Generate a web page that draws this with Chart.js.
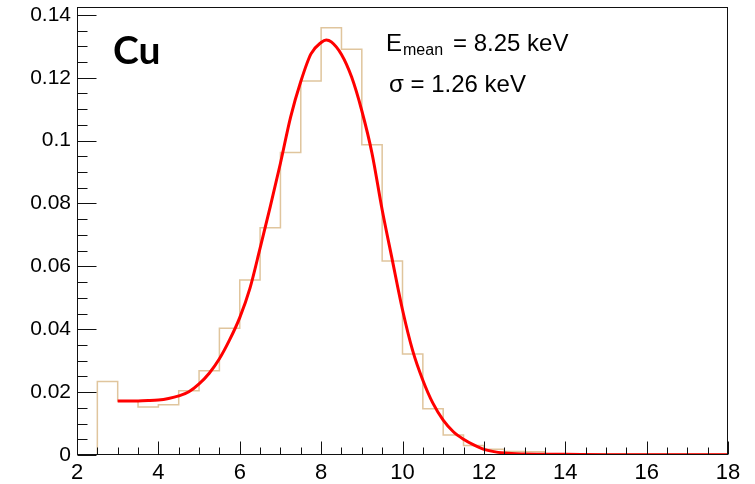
<!DOCTYPE html>
<html>
<head>
<meta charset="utf-8">
<title>Cu spectrum</title>
<script src="https://cdn.jsdelivr.net/npm/chart.js@4.4.0/dist/chart.umd.min.js"></script>
<style>
  html, body { margin: 0; padding: 0; background: #fff; }
  #wrap { width: 755px; height: 484px; }
</style>
</head>
<body>
<div id="wrap"><canvas id="spectrum" width="755" height="484"></canvas></div>
<script>
// Histogram bin edges (keV) and normalised content of each 0.5 keV bin
const binEdges = [2, 2.5, 3, 3.5, 4, 4.5, 5, 5.5, 6, 6.5, 7, 7.5, 8, 8.5, 9, 9.5, 10,
    10.5, 11, 11.5, 12, 12.5, 13, 13.5, 14, 14.5, 15, 15.5, 16, 16.5, 17, 17.5, 18];
const binCounts = [0, 0.0234, 0.0172, 0.0153, 0.0160, 0.0204, 0.0268, 0.0403, 0.0557,
    0.0723, 0.0962, 0.1190, 0.1359, 0.1291, 0.0987, 0.0617, 0.0321, 0.0147, 0.0064,
    0.0030, 0.0018, 0.0011, 0.0010, 0.0004, 0.0003, 0.0003, 0.0003, 0.0003, 0.0003,
    0.0003, 0.0003, 0.0003];

// Fit curve, sampled along the energy axis
const fitEnergy = [3, 3.25, 3.5, 3.75, 4, 4.25, 4.5, 4.75, 5, 5.25, 5.5, 5.75, 6, 6.25,
    6.5, 6.75, 7, 7.25, 7.5, 7.75, 8, 8.125, 8.25, 8.5, 8.75, 9, 9.25, 9.5, 9.75, 10,
    10.25, 10.5, 10.75, 11, 11.25, 11.5, 11.75, 12, 12.5, 13, 14, 15, 16, 17, 18];
const fitValue = [0.0172, 0.0172, 0.0172, 0.0173, 0.0175, 0.0180, 0.0188, 0.0201, 0.0226,
    0.0260, 0.0306, 0.0366, 0.0437, 0.0530, 0.0658, 0.0790, 0.0928, 0.1075, 0.1188,
    0.1276, 0.1312, 0.1320, 0.1314, 0.1274, 0.1202, 0.1095, 0.0960, 0.0780, 0.0620,
    0.0462, 0.0332, 0.0238, 0.0164, 0.0111, 0.0074, 0.0050, 0.0032, 0.0018, 0.0006,
    0.0003, 0.0002, 0.0001, 0.0001, 0.0001, 0.0001];

// Axis ticks
const xTickValues = [2, 4, 6, 8, 10, 12, 14, 16, 18];
const yTickValues = [0, 0.02, 0.04, 0.06, 0.08, 0.1, 0.12, 0.14];
const yTickLabels = ['0', '0.02', '0.04', '0.06', '0.08', '0.1', '0.12', '0.14'];
const xMinorStep = 0.5;
const yMinorStep = 0.005;

const tickFont = "'Liberation Sans', Arial, Helvetica, sans-serif";

// Step outline: one point per lower edge, last edge repeats the final bin
const histPoints = binCounts.map((c, i) => ({ x: binEdges[i], y: c }));
histPoints.push({ x: binEdges[binEdges.length - 1], y: binCounts[binCounts.length - 1] });

const fitPoints = fitEnergy.map((e, i) => ({ x: e, y: fitValue[i] }));

// Frame box with inward ticks on the bottom and left axes
const frameTicks = {
    id: 'frameTicks',
    afterDatasetsDraw(chart) {
        const { ctx, chartArea: a, scales: { x, y } } = chart;
        const L = Math.round(a.left) + 0.5;
        const R = Math.round(a.right) - 0.5;
        const T = Math.round(a.top) + 0.5;
        const B = Math.round(a.bottom) - 0.5;
        ctx.save();
        ctx.strokeStyle = '#111';
        ctx.lineWidth = 1;
        ctx.strokeRect(L, T, R - L, B - T);

        ctx.beginPath();
        const nx = Math.round((x.max - x.min) / xMinorStep);
        for (let i = 0; i <= nx; i++) {
            const v = x.min + i * xMinorStep;
            const px = Math.round(x.getPixelForValue(v)) + 0.5;
            const len = xTickValues.includes(v) ? 13 : 7;
            ctx.moveTo(px, B);
            ctx.lineTo(px, B - len);
        }
        const ny = Math.round(0.14 / yMinorStep);
        for (let i = 0; i <= ny; i++) {
            const py = Math.round(y.getPixelForValue(i * yMinorStep)) + 0.5;
            const len = i % 4 === 0 ? 19 : 10;
            ctx.moveTo(L, py);
            ctx.lineTo(L + len, py);
        }
        ctx.stroke();
        ctx.restore();
    }
};

// Element label and fit results
const annotations = {
    id: 'annotations',
    afterDraw(chart) {
        const { ctx, chartArea: a } = chart;
        ctx.save();
        ctx.fillStyle = '#000';
        ctx.textBaseline = 'alphabetic';
        ctx.textAlign = 'left';

        ctx.font = "bold 39px Lato, 'Open Sans', sans-serif";
        ctx.fillText('Cu', a.left + 36, a.top + 57);

        const x0 = a.left + 309;
        ctx.font = "24px 'Liberation Sans', Arial, sans-serif";
        ctx.fillText('E', x0, a.top + 44);
        const x1 = x0 + ctx.measureText('E').width + 1;
        ctx.font = "16px 'Liberation Sans', Arial, sans-serif";
        ctx.fillText('mean', x1, a.top + 48);
        const x2 = x1 + ctx.measureText('mean').width + 10;
        ctx.font = "24px 'Liberation Sans', Arial, sans-serif";
        ctx.fillText('= 8.25 keV', x2, a.top + 44);

        ctx.fillText('\u03c3 = 1.26 keV', x0 + 3, a.top + 85);
        ctx.restore();
    }
};

new Chart(document.getElementById('spectrum'), {
    type: 'line',
    data: {
        datasets: [{
            label: 'fit',
            data: fitPoints,
            borderColor: '#ff0000',
            borderWidth: 3,
            pointRadius: 0,
            cubicInterpolationMode: 'monotone',
            fill: false,
            order: 0
        }, {
            label: 'histogram',
            data: histPoints,
            stepped: 'before',
            borderColor: '#e0c59d',
            borderWidth: 1.5,
            pointRadius: 0,
            fill: false,
            order: 1
        }]
    },
    options: {
        responsive: false,
        animation: false,
        events: [],
        layout: { padding: { top: 7, right: 27, bottom: 0, left: 0 } },
        plugins: {
            legend: { display: false },
            tooltip: { enabled: false }
        },
        scales: {
            x: {
                type: 'linear',
                min: 2,
                max: 18,
                afterFit: s => {
                    s.height = 29;
                    s.paddingLeft = 0;
                    s.paddingRight = 0;
                },
                afterBuildTicks: s => { s.ticks = xTickValues.map(v => ({ value: v })); },
                grid: { display: false, drawTicks: false },
                border: { display: false },
                ticks: {
                    color: '#000',
                    padding: 5,
                    maxRotation: 0,
                    autoSkip: false,
                    font: { family: tickFont, size: 22 },
                    callback: v => String(v)
                }
            },
            y: {
                type: 'linear',
                min: 0,
                max: 0.1425,
                afterFit: s => {
                    s.width = 77;
                    s.paddingTop = 0;
                    s.paddingBottom = 0;
                },
                afterBuildTicks: s => { s.ticks = yTickValues.map(v => ({ value: v })); },
                grid: { display: false, drawTicks: false },
                border: { display: false },
                ticks: {
                    color: '#000',
                    padding: 6,
                    autoSkip: false,
                    font: { family: tickFont, size: 21 },
                    callback: (v, i) => yTickLabels[i]
                }
            }
        }
    },
    plugins: [frameTicks, annotations]
});
</script>
</body>
</html>
